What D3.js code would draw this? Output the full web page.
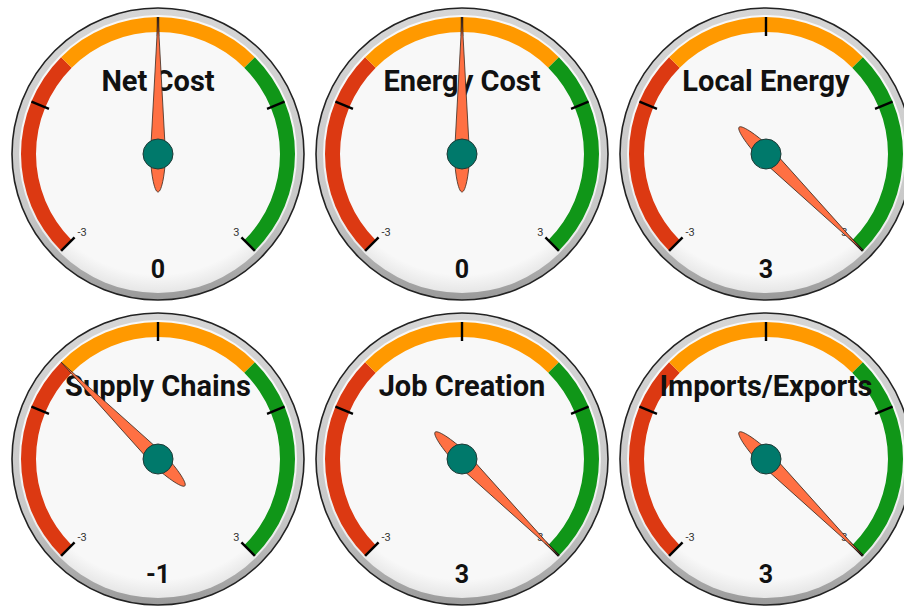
<!DOCTYPE html>
<html>
<head>
<meta charset="utf-8">
<script src="https://cdn.jsdelivr.net/npm/d3@7"></script>
<style>
  html, body { margin: 0; padding: 0; background: #fff; overflow: hidden; }
  svg { display: block; font-family: Roboto, "Noto Sans", sans-serif; }
</style>
</head>
<body>
<svg id="chart" width="904" height="607"></svg>
<script>
// gauge data
const titles = ['Net Cost', 'Energy Cost', 'Local Energy', 'Supply Chains', 'Job Creation', 'Imports/Exports'];
const values = [0, 0, 3, -1, 3, 3];
const gaugeMin = -3;
const gaugeMax = 3;
const bands = [
  { from: -3, to: -1, color: '#dc3912' },
  { from: -1, to: 1, color: '#ff9900' },
  { from: 1, to: 3, color: '#109618' }
];
const majorTicks = [-3, -1.5, 0, 1.5, 3];
const tickLabels = ['-3', '', '', '', '3'];

const svg = d3.select('#chart');
const cols = 3;
const R = 146;

const defs = svg.append('defs');
const ring = defs.append('linearGradient').attr('id', 'ring')
  .attr('x1', 0).attr('y1', 0).attr('x2', 0).attr('y2', 1);
ring.append('stop').attr('offset', '0%').attr('stop-color', '#d6d6d6');
ring.append('stop').attr('offset', '70%').attr('stop-color', '#c8c8c8');
ring.append('stop').attr('offset', '100%').attr('stop-color', '#9a9a9a');

const face = defs.append('radialGradient').attr('id', 'face')
  .attr('cx', '50%').attr('cy', '45%').attr('r', '55%');
face.append('stop').attr('offset', '88%').attr('stop-color', '#f8f8f8');
face.append('stop').attr('offset', '100%').attr('stop-color', '#e6e6e6');

const xPos = d3.scaleLinear().domain([0, 2]).range([158, 766]);
const yPos = d3.scaleLinear().domain([0, 1]).range([154, 459]);
const angle = d3.scaleLinear().domain([gaugeMin, gaugeMax]).range([-135, 135]);
const rad = d => angle(d) * Math.PI / 180;

titles.forEach((title, i) => {
  const cx = xPos(i % cols);
  const cy = yPos(Math.floor(i / cols));
  const g = svg.append('g').attr('transform', `translate(${cx},${cy})`);

  // bezel and face
  g.append('circle').attr('r', R).attr('fill', 'url(#ring)').attr('stroke', '#222').attr('stroke-width', 1.6);
  g.append('circle').attr('r', 139).attr('fill', 'url(#face)');

  // color bands
  const bandArc = d3.arc().innerRadius(122).outerRadius(137);
  g.selectAll('path.band')
    .data(bands)
    .enter()
    .append('path')
    .attr('class', 'band')
    .attr('d', d => bandArc({ startAngle: rad(d.from), endAngle: rad(d.to) }))
    .attr('fill', d => d.color);

  // major ticks
  g.selectAll('line.tick')
    .data(majorTicks)
    .enter()
    .append('line')
    .attr('x1', d => 118 * Math.sin(rad(d)))
    .attr('y1', d => -118 * Math.cos(rad(d)))
    .attr('x2', d => 137 * Math.sin(rad(d)))
    .attr('y2', d => -137 * Math.cos(rad(d)))
    .attr('stroke', '#000')
    .attr('stroke-width', 2.4);

  g.selectAll('text.tlabel')
    .data(majorTicks)
    .enter()
    .append('text')
    .attr('x', d => 118 * Math.sin(rad(d)) + (d < 0 ? 3 : -2))
    .attr('y', d => -118 * Math.cos(rad(d)) - 1)
    .attr('text-anchor', d => d < 0 ? 'start' : 'end')
    .attr('font-size', 11)
    .attr('fill', '#333')
    .text((d, k) => tickLabels[k]);

  // title + value
  g.append('text')
    .attr('y', -63)
    .attr('text-anchor', 'middle')
    .attr('font-size', 29)
    .attr('font-weight', 'bold')
    .attr('fill', '#111')
    .text(title);

  g.append('text')
    .attr('y', 124)
    .attr('text-anchor', 'middle')
    .attr('font-size', 25)
    .attr('font-weight', 'bold')
    .attr('fill', '#111')
    .text(values[i]);

  // needle
  g.append('path')
    .attr('d', 'M0,-137 L7.5,0 C7.5,16 4,38 0,38 C-4,38 -7.5,16 -7.5,0 Z')
    .attr('transform', `rotate(${angle(values[i])})`)
    .attr('fill', '#ff7043')
    .attr('stroke', '#3a2a20')
    .attr('stroke-width', 0.8);

  g.append('circle').attr('r', 15).attr('fill', '#00796b').attr('stroke', '#1f3a36').attr('stroke-width', 1);
});
</script>
</body>
</html>
